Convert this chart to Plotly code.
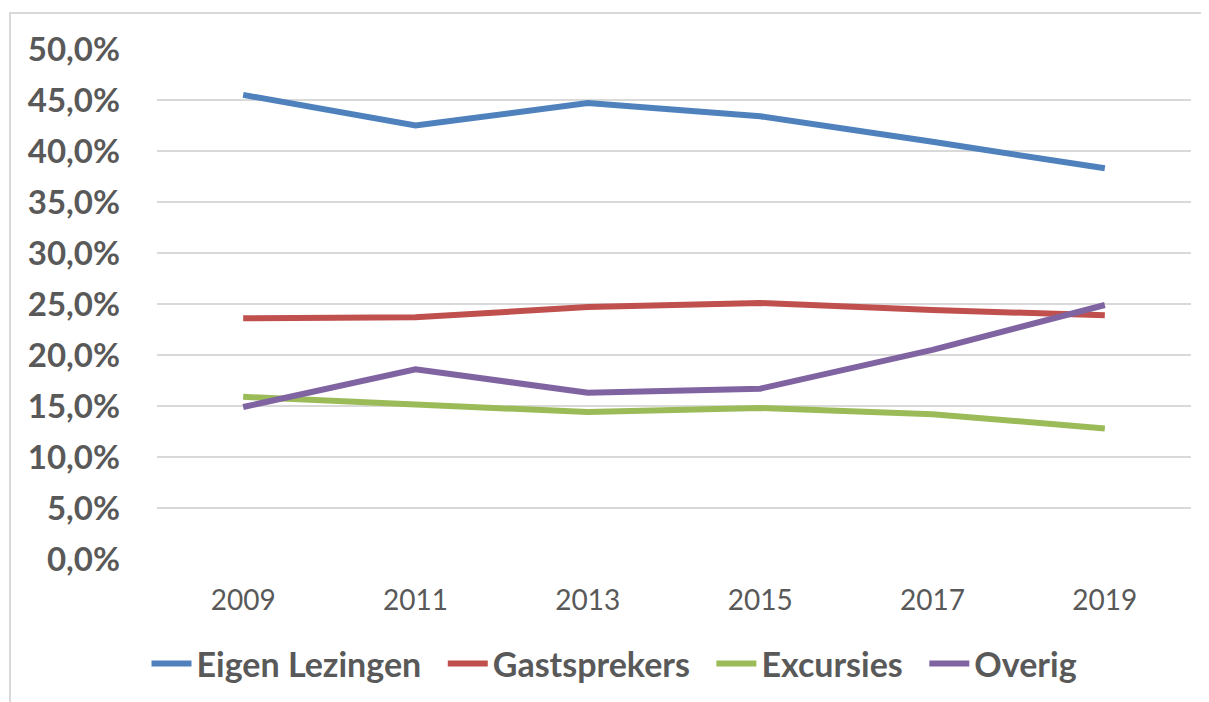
import plotly.graph_objects as go

years = ["2009", "2011", "2013", "2015", "2017", "2019"]
eigen_lezingen = [0.455, 0.425, 0.447, 0.434, 0.409, 0.383]
gastsprekers = [0.236, 0.237, 0.247, 0.251, 0.244, 0.239]
excursies = [0.159, 0.151, 0.144, 0.148, 0.142, 0.128]
overig = [0.149, 0.186, 0.163, 0.167, 0.205, 0.249]

series = [
    ("Eigen Lezingen", eigen_lezingen, "#4F81BD"),
    ("Gastsprekers", gastsprekers, "#C0504D"),
    ("Excursies", excursies, "#9BBB59"),
    ("Overig", overig, "#8064A2"),
]

fig = go.Figure()
for i, (name, vals, color) in enumerate(series):
    pad = "\u00a0\u00a0" if i < len(series) - 1 else ""
    fig.add_trace(go.Scatter(
        x=years, y=vals, name=name + pad, mode="lines",
        line=dict(color=color, width=6),
    ))

# page body has an 8px margin, so the figure is placed at (8, 8)
W, H = 1201, 694
L, T = 149, 41
pw, ph = 1034, 510
R, B = W - L - pw, H - T - ph

def px_to_paper_x(px):
    return (px - 8 - L) / pw

def px_to_paper_y(py):
    return (H - B - (py - 8)) / ph

fig.add_shape(type="rect", xref="paper", yref="paper",
              x0=px_to_paper_x(10), x1=px_to_paper_x(1230),
              y0=px_to_paper_y(720), y1=px_to_paper_y(13),
              line=dict(color="#D9D9D9", width=2), fillcolor="rgba(0,0,0,0)", layer="below")

fig.update_layout(
    width=W, height=H,
    margin=dict(l=L, r=R, t=T, b=B, autoexpand=False),
    paper_bgcolor="white", plot_bgcolor="white",
    separators=",.",
    font=dict(family="Lato", color="#595959"),
    showlegend=True,
    legend=dict(orientation="h", xref="container", yref="container",
                x=0.505, xanchor="center", y=0.055, yanchor="middle",
                font=dict(size=34, family="Lato", color="#595959", weight="bold"),
                itemwidth=40, tracegroupgap=0),
    xaxis=dict(type="category", range=[-0.5, 5.5], showgrid=False, zeroline=False,
               showline=False, automargin=False,
               ticks="", tickfont=dict(size=28, family="Lato", color="#595959"),
               ticklabelstandoff=22),
    yaxis=dict(range=[0, 0.5], dtick=0.05, tickformat=".1%", automargin=False,
               showgrid=True, gridcolor="#D9D9D9", gridwidth=1.5,
               zeroline=False, showline=False, ticks="",
               tickfont=dict(size=33, family="Lato", color="#595959", weight="bold"),
               ticklabelstandoff=36),
)

fig.write_html("out.html")
